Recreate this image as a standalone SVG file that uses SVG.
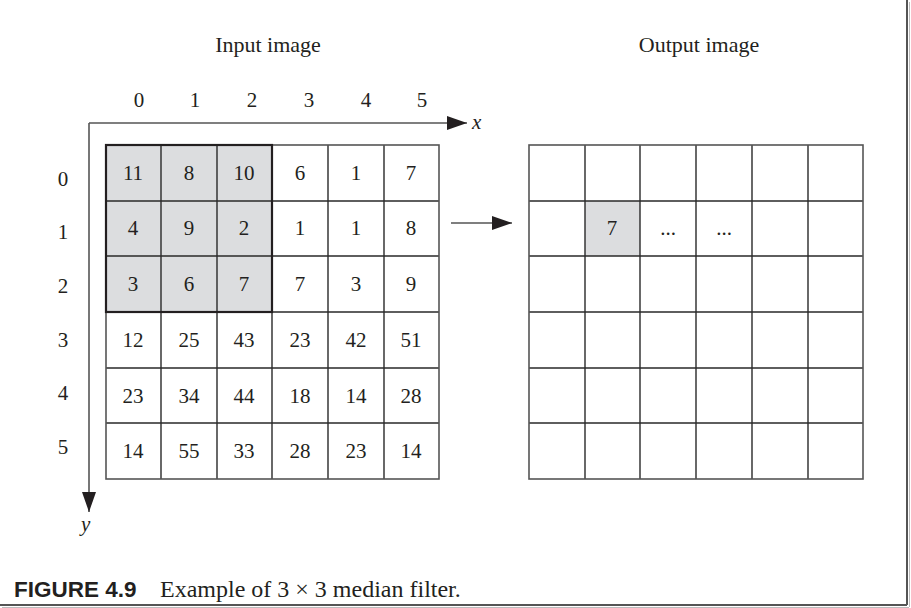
<svg xmlns="http://www.w3.org/2000/svg" width="911" height="608" viewBox="0 0 911 608">
<defs>
<style>
.t{font-family:"Liberation Serif","Times New Roman",serif;font-size:21px;fill:#231f20;text-anchor:middle}
.lbl{font-family:"Liberation Serif","Times New Roman",serif;font-size:22px;fill:#231f20;text-anchor:middle}
.ax{font-family:"Liberation Serif","Times New Roman",serif;font-size:21px;font-style:italic;fill:#231f20}
.grid{stroke:#2a2a2a;stroke-width:1.4;fill:none}
.outer{stroke:#555;stroke-width:1.6;fill:none}
.axis{stroke:#555;stroke-width:1.6;fill:none}
.shade{fill:#dcdddf}
</style>
<marker id="ah" markerWidth="20" markerHeight="14" refX="20" refY="7" orient="auto" markerUnits="userSpaceOnUse">
<path d="M0,0 L20,7 L0,14 Z" fill="#231f20"/>
</marker>
</defs>
<rect width="911" height="608" fill="#fff"/>
<line x1="907" y1="0" x2="907" y2="605" stroke="#555" stroke-width="2"/>
<line x1="0" y1="605" x2="907" y2="605" stroke="#555" stroke-width="2"/>
<line x1="909.5" y1="2" x2="909.5" y2="607" stroke="#bbb" stroke-width="1"/>
<line x1="2" y1="607.5" x2="909" y2="607.5" stroke="#bbb" stroke-width="1"/>

<text class="lbl" x="268" y="52">Input image</text>
<text class="lbl" x="699" y="52">Output image</text>

<g id="col-labels">
<text class="t" x="139" y="107">0</text>
<text class="t" x="195" y="107">1</text>
<text class="t" x="252" y="107">2</text>
<text class="t" x="309" y="107">3</text>
<text class="t" x="366" y="107">4</text>
<text class="t" x="422" y="107">5</text>
</g>
<g id="row-labels">
<text class="t" x="63" y="186">0</text>
<text class="t" x="63" y="239">1</text>
<text class="t" x="63" y="293">2</text>
<text class="t" x="63" y="347">3</text>
<text class="t" x="63" y="400">4</text>
<text class="t" x="63" y="454">5</text>
</g>

<g id="connectors">
<line class="axis" x1="89" y1="123" x2="89" y2="512" marker-end="url(#ah)"/>
<line class="axis" x1="89" y1="123" x2="467" y2="123" marker-end="url(#ah)"/>
<line class="axis" x1="451" y1="223" x2="512" y2="223" marker-end="url(#ah)"/>
</g>
<text class="ax" x="472" y="129">x</text>
<text class="ax" x="81" y="531">y</text>

<g id="input-image">
<rect class="shade" x="106" y="145" width="166" height="167"/>
<path class="grid" d="M161,145V479M217,145V479M272,145V479M328,145V479M384,145V479M106,201H439M106,256H439M106,312H439M106,368H439M106,423H439"/>
<rect class="outer" x="106" y="145" width="333" height="334"/>
<rect x="106" y="145" width="166" height="167" fill="none" stroke="#231f20" stroke-width="2.2"/>
<text class="t" x="133" y="180">11</text><text class="t" x="189" y="180">8</text><text class="t" x="244" y="180">10</text><text class="t" x="300" y="180">6</text><text class="t" x="356" y="180">1</text><text class="t" x="411" y="180">7</text>
<text class="t" x="133" y="235">4</text><text class="t" x="189" y="235">9</text><text class="t" x="244" y="235">2</text><text class="t" x="300" y="235">1</text><text class="t" x="356" y="235">1</text><text class="t" x="411" y="235">8</text>
<text class="t" x="133" y="291">3</text><text class="t" x="189" y="291">6</text><text class="t" x="244" y="291">7</text><text class="t" x="300" y="291">7</text><text class="t" x="356" y="291">3</text><text class="t" x="411" y="291">9</text>
<text class="t" x="133" y="347">12</text><text class="t" x="189" y="347">25</text><text class="t" x="244" y="347">43</text><text class="t" x="300" y="347">23</text><text class="t" x="356" y="347">42</text><text class="t" x="411" y="347">51</text>
<text class="t" x="133" y="403">23</text><text class="t" x="189" y="403">34</text><text class="t" x="244" y="403">44</text><text class="t" x="300" y="403">18</text><text class="t" x="356" y="403">14</text><text class="t" x="411" y="403">28</text>
<text class="t" x="133" y="458">14</text><text class="t" x="189" y="458">55</text><text class="t" x="244" y="458">33</text><text class="t" x="300" y="458">28</text><text class="t" x="356" y="458">23</text><text class="t" x="411" y="458">14</text>
</g>

<g id="output-image">
<rect class="shade" x="585" y="201" width="55" height="55"/>
<path class="grid" d="M585,145V479M640,145V479M696,145V479M752,145V479M808,145V479M529,201H863M529,256H863M529,312H863M529,368H863M529,423H863"/>
<rect class="outer" x="529" y="145" width="334" height="334"/>
<text class="t" x="612" y="235">7</text>
<text class="t" x="668" y="235">...</text>
<text class="t" x="724" y="235">...</text>
</g>

<g id="caption">
<text x="14" y="597" style="font-family:'Liberation Sans',Arial,sans-serif;font-weight:bold;font-size:22.5px;fill:#231f20">FIGURE 4.9</text>
<text x="160" y="597" style="font-family:'Liberation Serif','Times New Roman',serif;font-size:24px;fill:#231f20">Example of 3 × 3 median filter.</text>
</g>
</svg>
